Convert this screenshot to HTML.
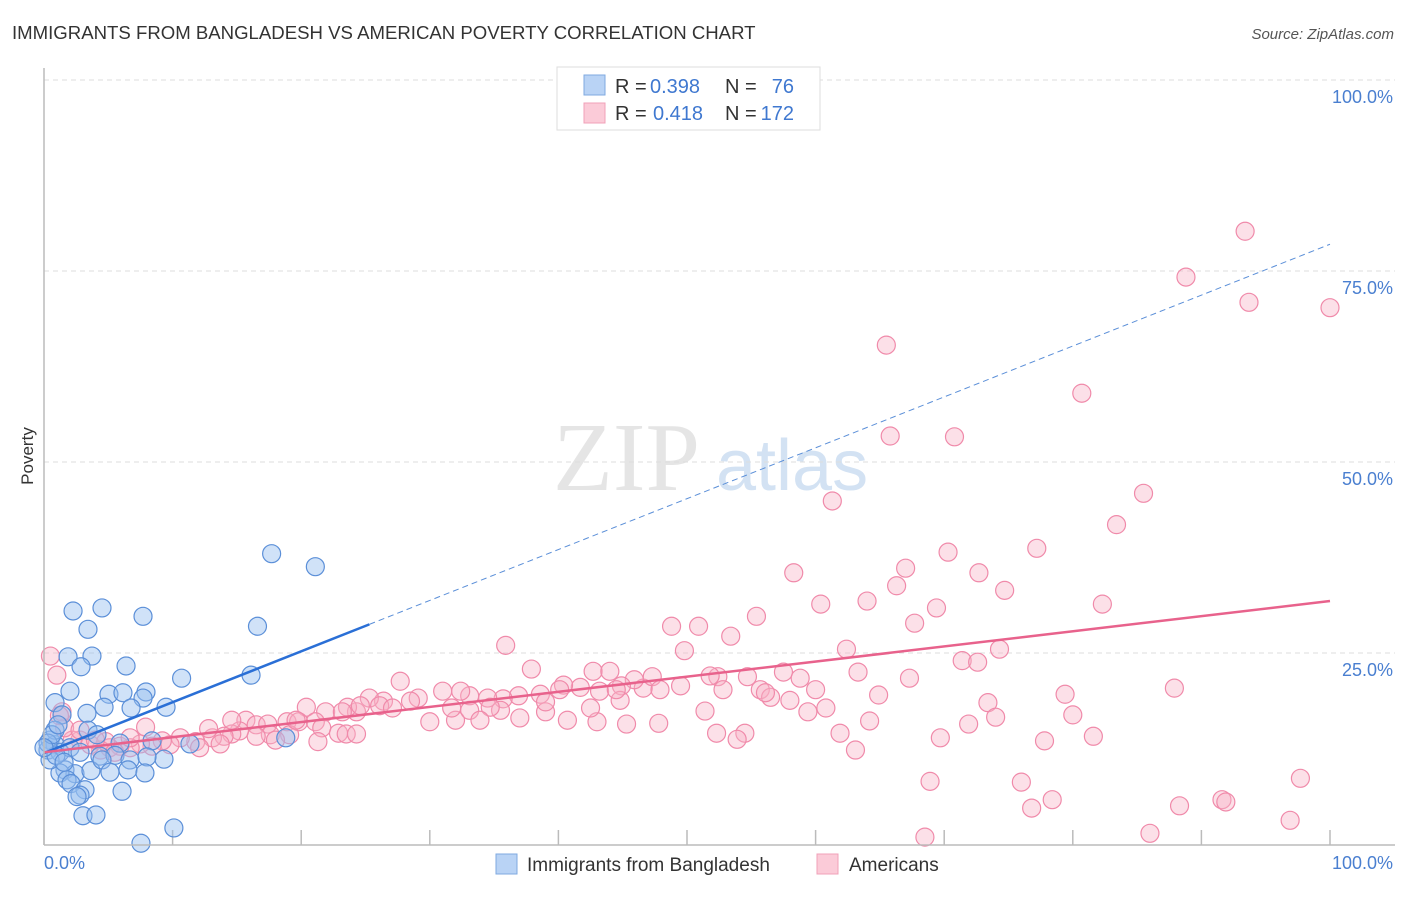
<!DOCTYPE html>
<html><head><meta charset="utf-8"><style>
body{margin:0;background:#fff;font-family:"Liberation Sans",sans-serif}
svg text{font-family:"Liberation Sans",sans-serif}
</style></head><body>
<svg id="c" width="1406" height="892" xmlns="http://www.w3.org/2000/svg">
<text x="12" y="39" font-size="18.6" fill="#333">IMMIGRANTS FROM BANGLADESH VS AMERICAN POVERTY CORRELATION CHART</text>
<text x="1394" y="39" font-size="15" fill="#555" font-style="italic" text-anchor="end">Source: ZipAtlas.com</text>
<text x="0" y="0" transform="translate(33,456) rotate(-90)" font-size="17" fill="#333" text-anchor="middle">Poverty</text>
<g opacity="0.5">
<text x="553" y="490" font-size="98" style="font-family:'Liberation Serif',serif" fill="#ccc">ZIP</text>
<text x="716" y="490" font-size="72" fill="#a9c6e8">atlas</text>
</g>
<g id="grid"></g><g id="pts"></g><g id="lines"></g>
<line x1="44" y1="68" x2="44" y2="845" stroke="#bbb" stroke-width="1.5"/>
<line x1="44" y1="845" x2="1395" y2="845" stroke="#bbb" stroke-width="1.5"/>
<text x="44" y="869" font-size="18" fill="#4a7fd0">0.0%</text>
<text x="1393" y="869" font-size="18" fill="#4a7fd0" text-anchor="end">100.0%</text>
<g>
<rect x="557" y="67" width="263" height="63" fill="#fff" stroke="#ddd"/>
<rect x="584" y="75" width="21" height="20" fill="#b9d3f5" stroke="#7fa9e0"/>
<rect x="584" y="103" width="21" height="20" fill="#fbcbd8" stroke="#f0a0b8"/>
<text x="615" y="93" font-size="20" fill="#333">R =</text>
<text x="650" y="93" font-size="20" fill="#3f78d0">0.398</text>
<text x="725" y="93" font-size="20" fill="#333">N =</text>
<text x="794" y="93" font-size="20" fill="#3f78d0" text-anchor="end">76</text>
<text x="615" y="120" font-size="20" fill="#333">R =</text>
<text x="653" y="120" font-size="20" fill="#3f78d0">0.418</text>
<text x="725" y="120" font-size="20" fill="#333">N =</text>
<text x="794" y="120" font-size="20" fill="#3f78d0" text-anchor="end">172</text>
</g>
<g>
<rect x="496" y="854" width="21" height="20" fill="#b9d3f5" stroke="#7fa9e0"/>
<text x="527" y="871" font-size="19" fill="#333">Immigrants from Bangladesh</text>
<rect x="817" y="854" width="21" height="20" fill="#fbcbd8" stroke="#f0a0b8"/>
<text x="849" y="871" font-size="19" fill="#333">Americans</text>
</g>
</svg>
<script>
const yTicks=[25,50,75,100];
const yTickLabels=["25.0%","50.0%","75.0%","100.0%"];
const xTicks=[0,10,20,30,40,50,60,70,80,90,100];
const blueX=[2.26,4.51,7.70,3.42,1.87,3.73,2.88,6.38,17.7,21.1,16.6,10.7,16.1,0.86,2.02,5.05,6.14,7.93,7.70,6.77,4.67,9.49,3.34,1.40,3.42,4.12,5.91,8.40,11.35,18.8,0.47,0.86,0.31,1.24,2.02,2.80,4.35,5.52,6.69,9.33,8.01,1.63,2.41,3.65,1.24,1.79,2.10,3.19,2.80,2.57,6.07,3.03,4.04,7.54,10.1,0.47,0.86,0.93,4.51,6.53,7.85,5.13,1.56,0.31,0.62,1.09,0];
const blueY=[30.5,30.9,29.8,28.1,24.5,24.6,23.2,23.3,38.0,36.3,28.5,21.7,22.1,18.5,20.0,19.6,19.8,19.9,19.1,17.8,17.9,17.9,17.1,16.9,14.9,14.3,13.2,13.5,13.1,13.9,13.6,13.0,12.3,12.0,12.6,12.0,11.5,11.6,11.0,11.1,11.4,9.7,9.2,9.6,9.3,8.4,7.9,7.1,6.4,6.2,6.9,3.7,3.8,0.1,2.1,11.0,14.9,11.6,11.0,9.7,9.3,9.4,10.7,13.2,14.3,15.6,12.6];
const pinkX=[93.4,88.8,93.7,100,65.5,80.7,65.8,70.8,61.3,85.5,83.4,70.3,77.2,58.3,67.0,72.7,74.7,66.3,60.4,64.0,82.3,69.4,55.4,67.7,48.8,50.9,35.9,53.4,62.4,74.3,71.4,72.6,49.8,42.7,37.9,44.0,52.4,54.7,57.5,58.8,67.3,63.3,87.9,79.4,73.4,80.0,64.9,60.0,55.7,56.5,56.1,52.8,49.5,46.6,45.9,47.3,44.9,41.7,40.4,38.6,36.9,35.7,34.5,33.1,32.4,31.0,29.1,27.7,28.5,26.4,25.3,24.3,23.6,24.6,20.4,21.9,23.2,15.7,16.5,17.4,18.9,19.8,21.1,21.6,22.9,23.5,24.3,19.1,17.6,18.0,21.3,16.5,15.2,14.6,14.0,13.1,12.8,11.8,10.6,9.8,9.2,8.4,7.5,6.7,5.9,5.1,4.4,3.6,2.8,2.2,1.6,1.4,1.0,0.5,4.8,12.1,43.2,44.8,35.5,34.7,30.0,32.0,37.0,39.0,40.7,43.0,45.3,47.8,51.4,54.5,53.9,52.3,59.4,60.8,61.9,63.1,64.2,71.9,74.0,69.7,77.8,81.6,68.9,76.0,78.4,76.8,86.0,88.3,91.6,91.9,97.7,96.9,68.5,7.9,13.7,14.6,19.6,26.1,27.1,31.7,33.1,33.9,39.0,40.1,42.5,44.5,47.9,51.8,58.0,2.8,4.0,1.2,5.5,6.7];
const pinkY=[80.2,74.2,70.9,70.2,65.3,59.0,53.4,53.3,44.9,45.9,41.8,38.2,38.7,35.5,36.1,35.5,33.2,33.8,31.4,31.8,31.4,30.9,29.8,28.9,28.5,28.5,26.0,27.2,25.5,25.5,24.0,23.8,25.3,22.6,22.9,22.6,21.9,21.9,22.5,21.7,21.7,22.5,20.4,19.6,18.5,16.9,19.5,20.2,20.2,19.2,19.8,20.2,20.7,20.4,21.5,21.9,20.7,20.5,20.8,19.6,19.4,19.0,19.1,19.4,20.0,20.0,19.1,21.3,18.7,18.7,19.1,17.3,17.9,18.1,17.9,17.3,17.3,16.2,15.6,15.7,16.0,16.0,16.0,15.2,14.5,14.4,14.4,14.3,14.3,13.6,13.4,14.1,14.8,14.4,14.1,13.9,15.1,13.4,13.9,13.0,13.5,12.8,13.1,12.6,12.8,12.6,12.3,13.0,13.6,13.6,15.2,17.3,22.1,24.6,13.4,12.6,20.0,18.8,17.5,17.9,16.0,16.2,16.5,17.3,16.2,16.0,15.7,15.8,17.4,14.5,13.7,14.5,17.3,17.8,14.5,12.3,16.1,15.7,16.6,13.9,13.5,14.1,8.2,8.1,5.8,4.7,1.4,5.0,5.8,5.5,8.6,3.1,0.9,15.3,13.1,16.2,16.2,18.1,17.8,17.8,17.5,16.2,18.6,20.2,17.8,20.2,20.2,22.0,18.8,14.9,13.6,16.8,12.0,13.9];
const blueTrend=[11.9,78.5];
const blueSolidEnd=25.3;
const pinkTrend=[12.0,31.8];
const NS="http://www.w3.org/2000/svg";
const sx=v=>44+v*12.86, sy=v=>844-v*7.64;
function mk(tag,attrs,parent){const e=document.createElementNS(NS,tag);for(const k in attrs)e.setAttribute(k,attrs[k]);parent.appendChild(e);return e;}
const grid=document.getElementById('grid'),pts=document.getElementById('pts'),lines=document.getElementById('lines'),svg=document.getElementById('c');
yTicks.forEach((t,i)=>{
 const g=mk('line',{x1:44,x2:1395,y1:sy(t),y2:sy(t),stroke:'#ddd','stroke-dasharray':'5,4'},grid);
 
 
 const tx=mk('text',{x:1393,y:sy(t)+23,'font-size':18,fill:'#4a7fd0','text-anchor':'end'},svg);
 tx.textContent=yTickLabels[i];
 
 
});
xTicks.forEach(t=>{
 const l=mk('line',{x1:sx(t),x2:sx(t),y1:830,y2:845,stroke:'#bbb','stroke-width':1.5},grid);
 
 
});
pinkX.forEach((x,i)=>{
 const c=mk('circle',{cx:sx(x),cy:sy(pinkY[i]),r:9,fill:'rgba(248,178,198,0.4)',stroke:'#f08aaa','stroke-width':1.2},pts);
 
 
});
blueX.forEach((x,i)=>{
 const c=mk('circle',{cx:sx(x),cy:sy(blueY[i]),r:9,fill:'rgba(150,190,240,0.45)',stroke:'#5b8fd8','stroke-width':1.2},pts);
 
 
});
const by=x=>blueTrend[0]+(blueTrend[1]-blueTrend[0])*x/100;
let l1=mk('line',{x1:sx(0),y1:sy(by(0)),x2:sx(blueSolidEnd),y2:sy(by(blueSolidEnd)),stroke:'#2a6fd6','stroke-width':2.5},lines);


let l2=mk('line',{x1:sx(blueSolidEnd),y1:sy(by(blueSolidEnd)),x2:sx(100),y2:sy(by(100)),stroke:'#5b8fd8','stroke-width':1,'stroke-dasharray':'6,4'},lines);


let l3=mk('line',{x1:sx(0),y1:sy(pinkTrend[0]),x2:sx(100),y2:sy(pinkTrend[1]),stroke:'#e8628c','stroke-width':2.5},lines);


</script>
</body></html>
